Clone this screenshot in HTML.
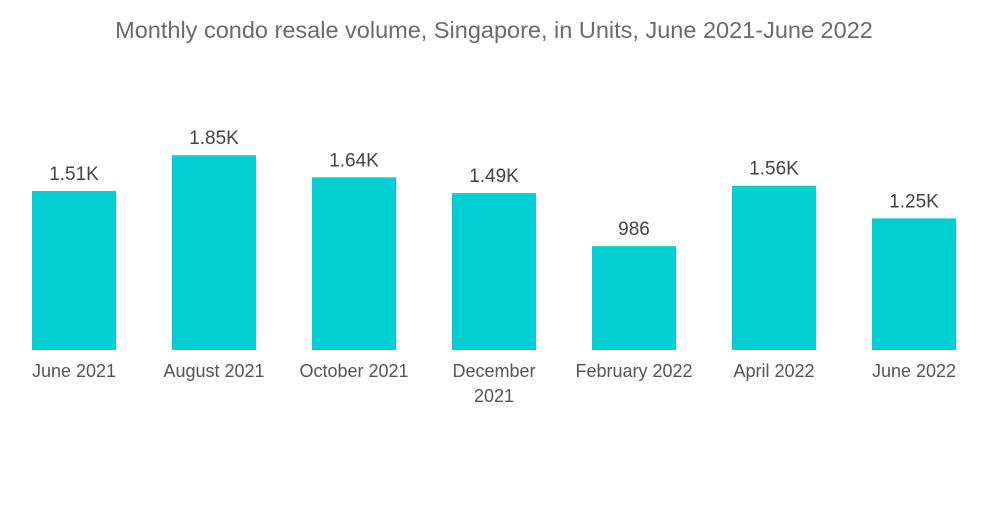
<!DOCTYPE html>
<html><head><meta charset="utf-8"><style>
body{margin:0;background:#fff;}
svg text{font-family:"Liberation Sans",sans-serif;}
</style></head><body>
<svg id="chart" width="1000" height="504" viewBox="0 0 1000 504" xmlns="http://www.w3.org/2000/svg">
<text x="494" y="38" text-anchor="middle" font-size="23.5" fill="#6b6b6b">Monthly condo resale volume, Singapore, in Units, June 2021-June 2022</text>
<g id="bars"></g>
</svg>
<script>
const categories = [["June 2021"],["August 2021"],["October 2021"],["December","2021"],["February 2022"],["April 2022"],["June 2022"]];
const values = [1510, 1850, 1640, 1490, 986, 1560, 1250];
const valueLabels = ["1.51K","1.85K","1.64K","1.49K","986","1.56K","1.25K"];

const baseY = 350, pxPerUnit = 159/1510;
const x0 = 32, step = 140, barW = 84;
const yScale = v => baseY - v*pxPerUnit;
const xScale = i => x0 + i*step;
const g = document.getElementById('bars');
const NS = "http://www.w3.org/2000/svg";
values.forEach((v,i)=>{
  const r = document.createElementNS(NS,'rect');
  
  
  r.setAttribute('x', xScale(i));
  r.setAttribute('y', yScale(v));
  r.setAttribute('width', barW);
  r.setAttribute('height', baseY - yScale(v));
  r.setAttribute('fill', '#00ced1');
  g.appendChild(r);
  const t = document.createElementNS(NS,'text');
  
  
  t.setAttribute('x', xScale(i)+barW/2);
  t.setAttribute('y', yScale(v)-11);
  t.setAttribute('text-anchor','middle');
  t.setAttribute('font-size','19');
  t.setAttribute('fill','#444');
  t.textContent = valueLabels[i];
  g.appendChild(t);
  categories[i].forEach((line,j)=>{
    const c = document.createElementNS(NS,'text');
    
    
    c.setAttribute('x', xScale(i)+barW/2);
    c.setAttribute('y', 377 + j*25);
    c.setAttribute('text-anchor','middle');
    c.setAttribute('font-size','18');
    c.setAttribute('fill','#555');
    c.textContent = line;
    g.appendChild(c);
  });
});
</script>
</body></html>
